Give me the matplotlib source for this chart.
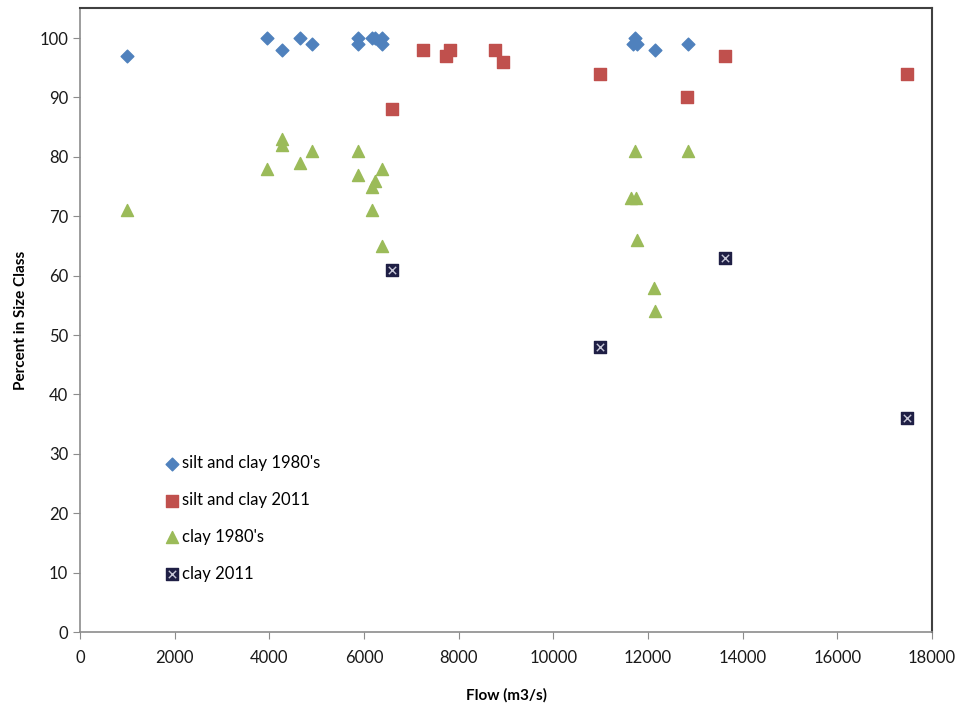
import numpy as np
import matplotlib.pyplot as plt
from matplotlib.legend_handler import HandlerTuple

# Data
flow_sc80 = [1000, 3950, 4260, 4650, 4900, 5870, 5870, 6160, 6230, 6370, 6370, 11690, 11730, 11770, 12150, 12850]
pct_sc80 = [97, 100, 98, 100, 99, 100, 99, 100, 100, 100, 99, 99, 100, 99, 98, 99]

flow_sc11 = [6600, 7240, 7740, 7810, 8760, 8930, 10980, 12820, 13620, 17470]
pct_sc11 = [88, 98, 97, 98, 98, 96, 94, 90, 97, 94]

flow_c80 = [1000, 3950, 4260, 4260, 4650, 4900, 5870, 5870, 6160, 6160, 6230, 6370, 6370,
            11730, 11650, 11750, 11770, 12120, 12150, 12850]
pct_c80 = [71, 78, 83, 82, 79, 81, 81, 77, 75, 71, 76, 78, 65,
           81, 73, 73, 66, 58, 54, 81]

flow_c11 = [6600, 10990, 13620, 17470]
pct_c11 = [61, 48, 63, 36]

plt.rcParams['font.family'] = ['Lato', 'DejaVu Sans']

fig = plt.figure(figsize=(9.58, 7.06), dpi=100)
ax = fig.add_axes([0.0835, 0.1048, 0.8894, 0.8834])

h1 = ax.scatter(flow_sc80, pct_sc80, marker='D', s=42, color='#4F81BD', zorder=3)
h2 = ax.scatter(flow_sc11, pct_sc11, marker='s', s=75, color='#C0504D', zorder=3)
h3 = ax.scatter(flow_c80, pct_c80, marker='^', s=75, color='#9BBB59', zorder=3)
h4a = ax.scatter(flow_c11, pct_c11, marker='s', s=70, color='#1F1F45', zorder=3)
h4b = ax.scatter(flow_c11, pct_c11, marker='x', s=28, color='#C8C8D8', linewidths=1.0, zorder=4)

ax.set_xlim(0, 18000)
ax.set_ylim(0, 105)
ax.set_xticks(np.arange(0, 18001, 2000))
ax.set_yticks(np.arange(0, 101, 10))

for side in ['left', 'bottom']:
    ax.spines[side].set_color('#8C8C8C')
    ax.spines[side].set_linewidth(1.2)
for side in ['top', 'right']:
    ax.spines[side].set_color('#404040')
    ax.spines[side].set_linewidth(1.5)
ax.tick_params(axis='both', direction='out', length=5, color='#8C8C8C', labelsize=12, labelcolor='#1A1A1A')
ax.tick_params(axis='x', pad=8)

ax.set_xlabel('Flow (m3/s)', fontsize=11, fontweight='bold', labelpad=16)
ax.set_ylabel('Percent in Size Class', fontsize=11, fontweight='bold', labelpad=8)

ax.legend([h1, h2, h3, (h4a, h4b)],
          ["silt and clay 1980's", 'silt and clay 2011', "clay 1980's", 'clay 2011'],
          handler_map={tuple: HandlerTuple(ndivide=1, pad=0)},
          loc='lower left', bbox_to_anchor=(0.09, 0.07), frameon=False,
          fontsize=12, labelspacing=1.25, handletextpad=0.1, handlelength=1.0,
          borderaxespad=0)

fig.savefig('out.png', dpi=100)
